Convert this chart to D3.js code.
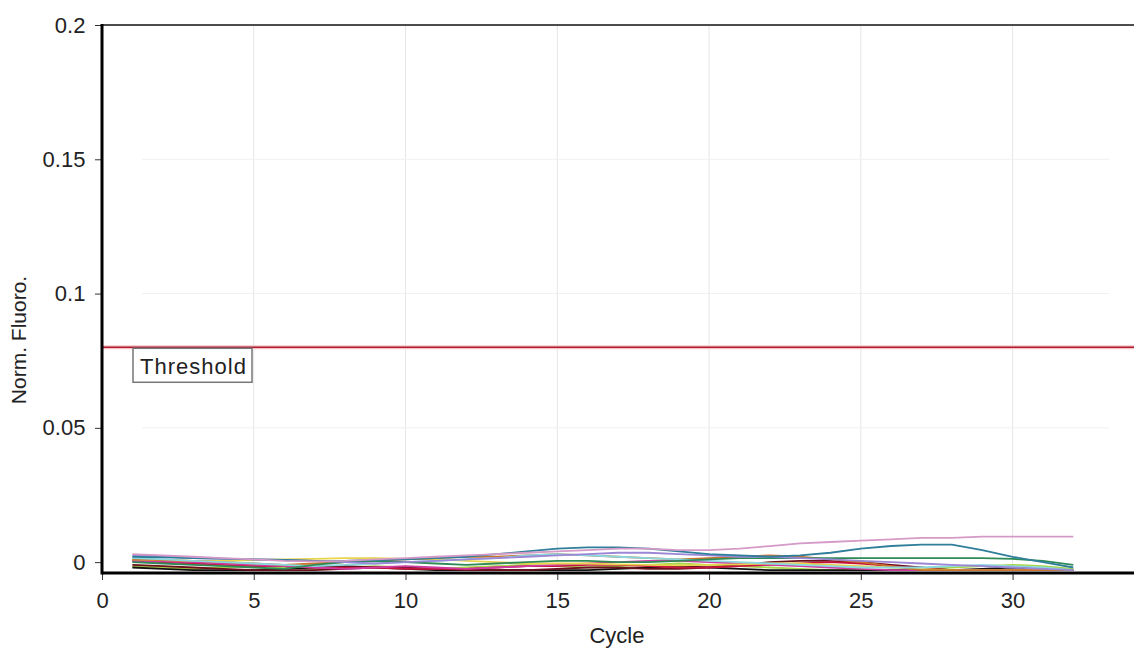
<!DOCTYPE html>
<html>
<head>
<meta charset="utf-8">
<script src="https://cdn.jsdelivr.net/npm/d3@7"></script>
<style>
body { margin: 0; background: #fff; }
svg { display: block; font-family: "Liberation Sans", Arial, sans-serif; }
</style>
</head>
<body>
<script>
var width = 1134, height = 648;
var margin = {top: 25, right: 0, bottom: 75, left: 102};

// data
var cycles = [1,2,3,4,5,6,7,8,9,10,11,12,13,14,15,16,17,18,19,20,21,22,23,24,25,26,27,28,29,30,31,32];
var xTicks = [0, 5, 10, 15, 20, 25, 30];
var yTicks = [0, 0.05, 0.1, 0.15, 0.2];
var yTickLabels = ["0", "0.05", "0.1", "0.15", "0.2"];
var threshold = 0.08;

var pinkSeries = [0.003,0.0025,0.002,0.0015,0.001,0.0005,0.0003,0.0005,0.001,0.0015,0.002,0.0025,0.003,0.0035,0.004,0.0045,0.005,0.005,0.0045,0.0045,0.005,0.006,0.007,0.0075,0.008,0.0085,0.009,0.009,0.0095,0.0095,0.0095,0.0095];
var tealSeries = [0.002,0.0018,0.0015,0.0013,0.001,0.0008,0.0005,0.0005,0.0008,0.001,0.0015,0.002,0.003,0.004,0.005,0.0055,0.0055,0.005,0.004,0.003,0.0025,0.002,0.0025,0.0035,0.005,0.006,0.0065,0.0065,0.0045,0.002,0,-0.002];
var lavenderSeries = [0.0025,0.0022,0.0015,0.0012,0.001,0.0008,0.0005,0,-0.0005,0,0.0005,0.001,0.0015,0.002,0.0025,0.003,0.0035,0.0035,0.003,0.0025,0.002,0.002,0.0015,0.001,0.0005,0,-0.0005,-0.001,-0.0015,-0.002,-0.0025,-0.003];
var greenSeries = [0,-0.0005,-0.001,-0.0015,-0.002,-0.0025,-0.001,0,0.0005,0,-0.0005,-0.001,-0.0005,0,0.0005,0.0005,0,0,0.0005,0.001,0.0015,0.0015,0.0015,0.0015,0.0015,0.0015,0.0015,0.0015,0.0015,0.0012,0.0005,-0.001];
var crimsonSeries = [0.0005,0,-0.0005,-0.001,-0.0015,-0.0015,-0.002,-0.002,-0.002,-0.0025,-0.0025,-0.0025,-0.002,-0.0015,-0.0015,-0.001,-0.001,-0.0015,-0.002,-0.002,-0.0015,-0.001,-0.0005,0,-0.0005,-0.0015,-0.0025,-0.003,-0.003,-0.003,-0.003,-0.003];
var darkRedSeries = [-0.001,-0.0015,-0.002,-0.0025,-0.003,-0.003,-0.003,-0.0025,-0.002,-0.002,-0.0025,-0.003,-0.003,-0.003,-0.0025,-0.002,-0.002,-0.0025,-0.0025,-0.002,-0.001,0,0.0005,0.0005,0,-0.001,-0.002,-0.003,-0.003,-0.003,-0.003,-0.003];
var yellowSeries = [0.001,0.0008,0.0005,0.0005,0.0008,0.001,0.0012,0.0015,0.0015,0.0012,0.001,0.0005,0,-0.0005,-0.0005,-0.0005,-0.0008,-0.001,-0.0012,-0.001,-0.0008,-0.0005,-0.0005,-0.001,-0.0015,-0.002,-0.0025,-0.003,-0.003,-0.003,-0.003,-0.003];
var blackSeries = [-0.002,-0.0025,-0.003,-0.003,-0.003,-0.0025,-0.002,-0.0015,-0.002,-0.0025,-0.003,-0.003,-0.003,-0.003,-0.003,-0.003,-0.0025,-0.002,-0.0015,-0.002,-0.0025,-0.003,-0.003,-0.003,-0.003,-0.003,-0.003,-0.003,-0.0025,-0.002,-0.0025,-0.003];
var orangeSeries = [0.001,0.0008,0.0005,0,-0.0005,-0.001,-0.0005,0,0.0005,0.001,0.0015,0.002,0.002,0.0025,0.003,0.0025,0.002,0.0015,0.001,0.0015,0.002,0.0025,0.002,0.001,0,-0.0015,-0.003,-0.003,-0.003,-0.003,-0.003,-0.003];
var cyanSeries = [0.0015,0.001,0.0005,0,-0.0005,-0.001,-0.0015,-0.001,-0.0005,0,0.0005,0.001,0.0015,0.0025,0.003,0.0025,0.002,0.0015,0.001,0.0005,0,-0.0005,-0.001,-0.0015,-0.002,-0.002,-0.002,-0.0015,-0.001,-0.0015,-0.002,-0.003];
var limeSeries = [-0.0015,-0.002,-0.0025,-0.002,-0.0015,-0.002,-0.0025,-0.002,-0.0015,-0.002,-0.0025,-0.002,-0.0015,-0.001,-0.0015,-0.002,-0.0015,-0.001,-0.0005,-0.001,-0.0015,-0.002,-0.0025,-0.003,-0.003,-0.003,-0.0025,-0.002,-0.0015,-0.001,-0.0015,-0.0025];
var magentaSeries = [0.0005,0.0003,0,-0.0005,-0.001,-0.0015,-0.002,-0.0025,-0.002,-0.0015,-0.002,-0.0025,-0.002,-0.0015,-0.001,-0.0005,0,0.0005,0.0005,0,-0.0005,-0.001,-0.0015,-0.002,-0.0025,-0.003,-0.003,-0.003,-0.003,-0.003,-0.003,-0.003];

var series = [
  {name: "lime", color: "#a6d64a", values: limeSeries},
  {name: "black", color: "#111111", values: blackSeries},
  {name: "darkred", color: "#6b0f1a", values: darkRedSeries},
  {name: "crimson", color: "#c8143c", values: crimsonSeries},
  {name: "magenta", color: "#cf3aa0", values: magentaSeries},
  {name: "yellow", color: "#e8d44d", values: yellowSeries},
  {name: "orange", color: "#c9732c", values: orangeSeries},
  {name: "cyan", color: "#8ad8e0", values: cyanSeries},
  {name: "green", color: "#2e8b57", values: greenSeries},
  {name: "lavender", color: "#9c86d6", values: lavenderSeries},
  {name: "teal", color: "#2f7f9a", values: tealSeries},
  {name: "pink", color: "#d59ac8", values: pinkSeries}
];

var svg = d3.select("body").append("svg").attr("width", width).attr("height", height);

var x = d3.scaleLinear().domain([0, 34]).range([margin.left, width - margin.right]);
var y = d3.scaleLinear().domain([-0.0033, 0.2]).range([height - margin.bottom - 2, margin.top]);

// grid
svg.append("g").selectAll("line")
  .data(xTicks.slice(1))
  .enter().append("line")
  .attr("x1", function (d) { return x(d); })
  .attr("x2", function (d) { return x(d); })
  .attr("y1", margin.top)
  .attr("y2", height - margin.bottom)
  .attr("stroke", "#e6e6e6");

svg.append("g").selectAll("line")
  .data(yTicks.slice(1, 4))
  .enter().append("line")
  .attr("x1", margin.left + 40)
  .attr("x2", width - 25)
  .attr("y1", function (d) { return y(d); })
  .attr("y2", function (d) { return y(d); })
  .attr("stroke", "#f0f0f0");

// curves
svg.append("clipPath").attr("id", "plot")
  .append("rect")
  .attr("x", margin.left).attr("y", margin.top)
  .attr("width", width - margin.left).attr("height", height - margin.bottom - margin.top);

var line = d3.line()
  .x(function (d, i) { return x(cycles[i]); })
  .y(function (d) { return y(d); });

svg.append("g").attr("clip-path", "url(#plot)")
  .selectAll("path")
  .data(series)
  .enter().append("path")
  .attr("d", function (d) { return line(d.values); })
  .attr("fill", "none")
  .attr("stroke", function (d) { return d.color; })
  .attr("stroke-width", 1.8);

// threshold
svg.append("line")
  .attr("x1", margin.left).attr("x2", width)
  .attr("y1", y(threshold)).attr("y2", y(threshold))
  .attr("stroke", "#f3c4c8").attr("stroke-width", 4);
svg.append("line")
  .attr("x1", margin.left).attr("x2", width)
  .attr("y1", y(threshold)).attr("y2", y(threshold))
  .attr("stroke", "#b01c2e").attr("stroke-width", 1.5);

svg.append("rect")
  .attr("x", 133).attr("y", y(threshold) + 1)
  .attr("width", 119).attr("height", 34)
  .attr("fill", "#fff").attr("stroke", "#777").attr("stroke-width", 1.5);
svg.append("text")
  .attr("x", 140).attr("y", y(threshold) + 27)
  .attr("font-size", 22).attr("fill", "#222")
  .attr("textLength", 106)
  .text("Threshold");

// axes
var xAxis = svg.append("g")
  .attr("transform", "translate(0," + (height - margin.bottom) + ")")
  .call(d3.axisBottom(x).tickValues(xTicks).tickSize(7).tickFormat(d3.format("d")));
xAxis.select(".domain").remove();
xAxis.selectAll(".tick line").attr("stroke", "#333");
xAxis.selectAll(".tick text").attr("font-size", 22).attr("dy", "1.15em").attr("fill", "#222");

var yAxis = svg.append("g")
  .attr("transform", "translate(" + margin.left + ",0)")
  .call(d3.axisLeft(y).tickValues(yTicks).tickSize(7).tickFormat(function (d, i) { return yTickLabels[i]; }));
yAxis.select(".domain").remove();
yAxis.selectAll(".tick line").attr("stroke", "#333");
yAxis.selectAll(".tick text").attr("font-size", 22).attr("dx", "-0.3em").attr("fill", "#222");

svg.append("line")
  .attr("x1", margin.left).attr("x2", width)
  .attr("y1", margin.top).attr("y2", margin.top)
  .attr("stroke", "#111").attr("stroke-width", 1.5);
svg.append("line")
  .attr("x1", margin.left).attr("x2", margin.left)
  .attr("y1", margin.top - 1).attr("y2", height - margin.bottom + 1.5)
  .attr("stroke", "#000").attr("stroke-width", 3);
svg.append("line")
  .attr("x1", margin.left).attr("x2", width)
  .attr("y1", height - margin.bottom).attr("y2", height - margin.bottom)
  .attr("stroke", "#000").attr("stroke-width", 3);

// axis titles
svg.append("text")
  .attr("x", 617).attr("y", 643)
  .attr("text-anchor", "middle").attr("font-size", 22).attr("fill", "#222")
  .text("Cycle");
svg.append("text")
  .attr("transform", "translate(26,340) rotate(-90)")
  .attr("text-anchor", "middle").attr("font-size", 21).attr("fill", "#222")
  .text("Norm. Fluoro.");
</script>
</body>
</html>
